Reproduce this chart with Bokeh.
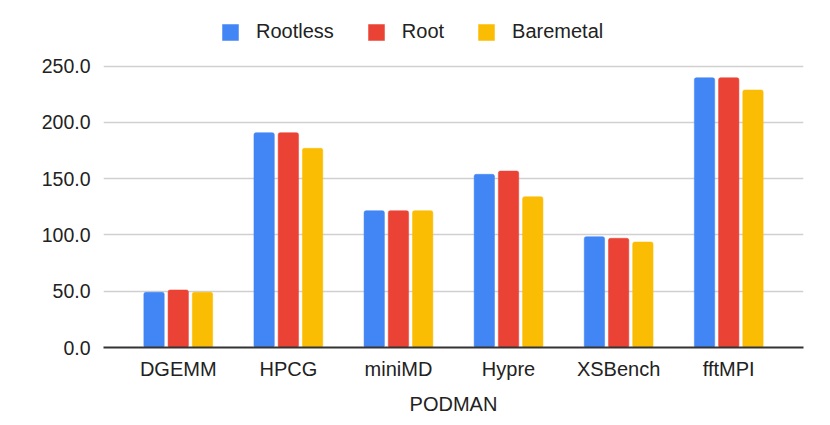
from bokeh.plotting import figure
from bokeh.models import (ColumnDataSource, FactorRange, Range1d, FixedTicker,
                          NumeralTickFormatter, Legend, LegendItem)
from bokeh.transform import dodge
from bokeh.embed import file_html
from bokeh.resources import INLINE

categories = ["DGEMM", "HPCG", "miniMD", "Hypre", "XSBench", "fftMPI"]
rootless = [49.0, 190.8, 121.5, 153.8, 98.4, 239.6]
root = [51.1, 190.8, 121.5, 156.7, 97.0, 239.6]
baremetal = [49.0, 176.9, 121.5, 133.9, 93.7, 228.7]
series_names = ["Rootless", "Root", "Baremetal"]
colors = ["#4285F4", "#EA4335", "#FBBC04"]
y_ticks = [0, 50, 100, 150, 200, 250]
x_title = "PODMAN"

FONT = "Liberation Sans"

src = ColumnDataSource(dict(cat=categories, rootless=rootless, root=root,
                            baremetal=baremetal))

H = 417
frame_top = 4
frame_bottom = 347
px_per_unit = 281.5 / 250.0
y_end = (frame_bottom - frame_top) / px_per_unit

p = figure(width=814, height=H, output_backend="svg", toolbar_location=None,
           x_range=FactorRange(factors=categories, range_padding=0.179,
                               range_padding_units="absolute"),
           y_range=Range1d(0, y_end))
p.min_border_left = 103
p.min_border_right = 11
p.min_border_top = frame_top
p.min_border_bottom = H - frame_bottom
p.outline_line_color = None
p.background_fill_color = "white"

renderers = []
for col, off, c in zip(["rootless", "root", "baremetal"], [-0.22, 0.0, 0.22], colors):
    r = p.vbar(x=dodge("cat", off, range=p.x_range), top=col, width=0.185,
               source=src, fill_color=c, line_color=c, line_width=0.5,
               border_radius=2)
    renderers.append(r)

# y axis
ya = p.yaxis[0]
ya.ticker = FixedTicker(ticks=y_ticks)
ya.formatter = NumeralTickFormatter(format="0.0")
ya.axis_line_color = None
ya.major_tick_line_color = None
ya.minor_tick_line_color = None
ya.major_tick_out = 0
ya.major_tick_in = 0
ya.major_label_standoff = 13
ya.major_label_text_font = FONT
ya.major_label_text_font_size = "19.5px"
ya.major_label_text_color = "#222222"

# x axis
xa = p.xaxis[0]
xa.axis_line_color = "#333333"
xa.axis_line_width = 2
xa.major_tick_line_color = None
xa.minor_tick_line_color = None
xa.major_tick_out = 0
xa.major_tick_in = 0
xa.major_label_standoff = 10
xa.major_label_text_font = FONT
xa.major_label_text_font_size = "20px"
xa.major_label_text_color = "#222222"
xa.axis_label = x_title
xa.axis_label_text_font = FONT
xa.axis_label_text_font_size = "20px"
xa.axis_label_text_font_style = "normal"
xa.axis_label_text_color = "#222222"
xa.axis_label_standoff = 10

p.xgrid.grid_line_color = None
p.ygrid.ticker = FixedTicker(ticks=y_ticks)
p.ygrid.grid_line_color = "#d0d0d0"
p.ygrid.grid_line_width = 1.5

legend = Legend(items=[LegendItem(label=n, renderers=[r]) for n, r in zip(series_names, renderers)],
                location=(117, 304), orientation="horizontal",
                glyph_width=20, glyph_height=20, label_standoff=16, spacing=32,
                padding=0, margin=0, border_line_color=None,
                background_fill_alpha=0,
                label_text_font=FONT, label_text_font_size="20px",
                label_text_color="#222222")
p.add_layout(legend, "center")

open("out.html", "w").write(file_html(p, INLINE))
